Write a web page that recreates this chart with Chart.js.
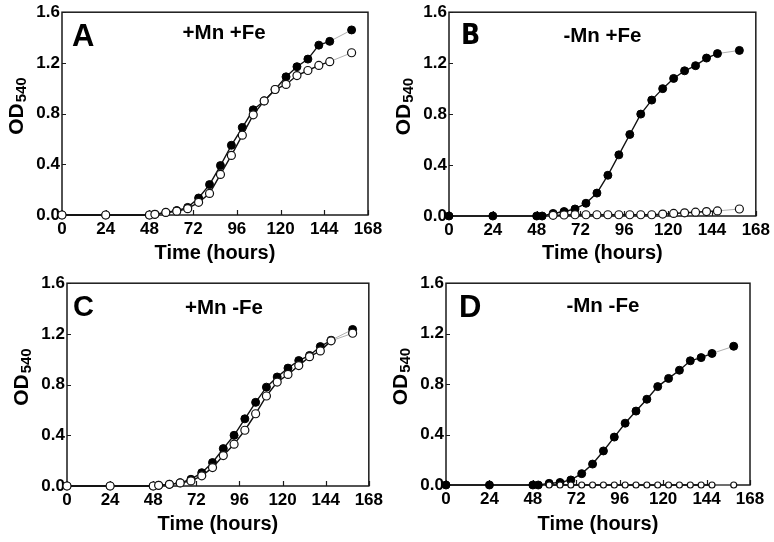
<!DOCTYPE html>
<html>
<head>
<meta charset="utf-8">
<script src="https://cdn.jsdelivr.net/npm/chart.js@4"></script>
<style>
  body { margin: 0; background: #fff; }
  #wrap { position: relative; width: 774px; height: 542px; }
  #wrap canvas { position: absolute; }
</style>
</head>
<body>
<div id="wrap">
  <canvas id="pA" width="387" height="271" style="left:0;top:0"></canvas>
  <canvas id="pB" width="387" height="271" style="left:387px;top:0"></canvas>
  <canvas id="pC" width="387" height="271" style="left:0;top:271px"></canvas>
  <canvas id="pD" width="387" height="271" style="left:387px;top:271px"></canvas>
</div>
<script>
// sampling times (hours)
const hours = [0, 24, 48, 51, 57, 63, 69, 75, 81, 87, 93, 99, 105, 111, 117, 123, 129, 135, 141, 147, 159];
const hoursLate = [57, 63, 69, 75, 81, 87, 93, 99, 105, 111, 117, 123, 129, 135, 141, 147, 159];

// OD540 readings, filled = wild type, open = mutant
const filledA = [0, 0, 0, 0.005, 0.02, 0.035, 0.06, 0.134, 0.24, 0.39, 0.55, 0.69, 0.83, 0.90, 0.99, 1.09, 1.17, 1.23, 1.34, 1.37, 1.46];
const openA   = [0, 0, 0, 0.005, 0.02, 0.03, 0.05, 0.10, 0.17, 0.32, 0.47, 0.63, 0.79, 0.90, 0.99, 1.03, 1.10, 1.14, 1.18, 1.21, 1.28];

const filledB = [0, 0, 0, 0, 0.02, 0.035, 0.055, 0.10, 0.18, 0.32, 0.48, 0.64, 0.80, 0.91, 1.00, 1.08, 1.14, 1.18, 1.24, 1.275, 1.30];
const openB   = [0.005, 0.008, 0.01, 0.01, 0.01, 0.01, 0.01, 0.01, 0.01, 0.01, 0.015, 0.02, 0.025, 0.03, 0.035, 0.04, 0.055];

const filledC = [0, 0, 0, 0.005, 0.013, 0.025, 0.053, 0.105, 0.185, 0.295, 0.40, 0.53, 0.66, 0.78, 0.86, 0.93, 0.99, 1.03, 1.10, 1.15, 1.235];
const openC   = [0, 0, 0, 0.005, 0.013, 0.024, 0.04, 0.08, 0.145, 0.24, 0.33, 0.44, 0.57, 0.71, 0.82, 0.88, 0.95, 1.02, 1.066, 1.145, 1.205];

const filledD = [0, 0, 0, 0, 0.013, 0.02, 0.04, 0.09, 0.166, 0.27, 0.38, 0.49, 0.586, 0.68, 0.78, 0.845, 0.91, 0.985, 1.01, 1.043, 1.10];
const openD   = [0, 0, 0, 0, 0, 0, 0, 0, 0, 0, 0, 0, 0, 0, 0, 0, 0];

const xTicks = [0, 24, 48, 72, 96, 120, 144, 168];
const yTicks = [0, 0.4, 0.8, 1.2, 1.6];

const panels = [
  { id: 'pA', letter: 'A', cond: '+Mn +Fe', fx: hours, fy: filledA, ox: hours, oy: openA,
    box: { l: 62, t: 12, r: 19, b: 56 }, letterX: 10, letterFont: 'bold 31px "Liberation Sans", Arial', condX: 0.53, condY: 21, openR: 4 },
  { id: 'pB', letter: 'B', cond: '-Mn +Fe', fx: hours, fy: filledB, ox: hoursLate, oy: openB,
    box: { l: 62, t: 12, r: 17, b: 55 }, letterX: 12, letterFont: 'bold 28px "Liberation Sans Narrow", "DejaVu Sans Condensed", Arial', condX: 0.5, condY: 24, openR: 4 },
  { id: 'pC', letter: 'C', cond: '+Mn -Fe', fx: hours, fy: filledC, ox: hours, oy: openC,
    box: { l: 67, t: 12, r: 17, b: 56 }, letterX: 6, letterFont: 'bold 29px "Liberation Sans", Arial', condX: 0.52, condY: 25, openR: 4 },
  { id: 'pD', letter: 'D', cond: '-Mn -Fe', fx: hours, fy: filledD, ox: hoursLate, oy: openD,
    box: { l: 59, t: 12, r: 24, b: 57 }, letterX: 13, letterFont: 'bold 31px "Liberation Sans", Arial', condX: 0.516, condY: 23, openR: 3 }
];

const FONT = '"Liberation Sans", Arial, sans-serif';

function pts(xs, ys) {
  return xs.map((x, i) => ({ x: x, y: ys[i] }));
}

// frame, inward ticks, labels and y title
const framePlugin = {
  id: 'frame',
  beforeDatasetsDraw(chart) {
    const ctx = chart.ctx;
    const a = chart.chartArea;
    const xs = chart.scales.x, ys = chart.scales.y;
    ctx.save();
    ctx.strokeStyle = '#1a1a1a';
    ctx.lineWidth = 1.5;
    ctx.strokeRect(a.left, a.top, a.right - a.left, a.bottom - a.top);
    ctx.lineWidth = 1.2;
    ctx.beginPath();
    xTicks.forEach(v => {
      const px = Math.round(xs.getPixelForValue(v)) + 0.5;
      ctx.moveTo(px, a.bottom);
      ctx.lineTo(px, a.bottom - 5);
    });
    yTicks.forEach(v => {
      const py = Math.round(ys.getPixelForValue(v)) + 0.5;
      ctx.moveTo(a.left, py);
      ctx.lineTo(a.left + 4, py);
    });
    ctx.stroke();
    ctx.restore();
  },
  afterDraw(chart) {
    const p = chart.options.plugins.frame;
    const ctx = chart.ctx;
    const a = chart.chartArea;
    ctx.save();
    ctx.fillStyle = '#000';
    // panel letter
    ctx.font = p.letterFont;
    ctx.textAlign = 'left';
    ctx.textBaseline = 'middle';
    ctx.fillText(p.letter, a.left + p.letterX, a.top + 25);
    // condition
    ctx.font = 'bold 20.5px ' + FONT;
    ctx.textAlign = 'center';
    ctx.fillText(p.cond, a.left + (a.right - a.left) * p.condX, a.top + p.condY);
    // y title OD540
    ctx.translate(a.left - 39, (a.top + a.bottom) / 2 - 7);
    ctx.rotate(-Math.PI / 2);
    ctx.textAlign = 'left';
    ctx.textBaseline = 'alphabetic';
    ctx.font = 'bold 21px ' + FONT;
    const w1 = ctx.measureText('OD').width;
    ctx.font = 'bold 15px ' + FONT;
    const w2 = ctx.measureText('540').width;
    const x0 = -(w1 + w2) / 2;
    ctx.font = 'bold 21px ' + FONT;
    ctx.fillText('OD', x0, 0);
    ctx.font = 'bold 15px ' + FONT;
    ctx.fillText('540', x0 + w1 + 1, 3);
    ctx.restore();
  }
};

const lineSeg = {
  borderColor: c => (c.p0.parsed.x >= 147 ? '#9a9a9a' : '#111'),
  borderWidth: c => (c.p0.parsed.x >= 147 ? 0.8 : 1.4)
};

panels.forEach(p => {
  new Chart(document.getElementById(p.id), {
    type: 'line',
    data: {
      datasets: [
        {
          label: 'open',
          data: pts(p.ox, p.oy),
          borderColor: '#111',
          borderWidth: 1.4,
          pointRadius: p.openR,
          pointBackgroundColor: '#fff',
          pointBorderColor: '#111',
          pointBorderWidth: 1.2,
          segment: lineSeg,
          tension: 0,
          clip: false
        },
        {
          label: 'filled',
          data: pts(p.fx, p.fy),
          borderColor: '#111',
          borderWidth: 1.4,
          pointRadius: 4,
          pointBackgroundColor: '#000',
          pointBorderColor: '#000',
          pointBorderWidth: 1,
          segment: lineSeg,
          tension: 0,
          clip: false
        }
      ]
    },
    options: {
      responsive: false,
      animation: false,
      devicePixelRatio: 1,
      layout: { padding: { left: 0, top: p.box.t, right: p.box.r, bottom: 0 } },
      scales: {
        x: {
          type: 'linear',
          min: 0, max: 168,
          afterFit: s => { s.height = p.box.b; },
          afterBuildTicks: s => { s.ticks = xTicks.map(v => ({ value: v })); },
          grid: { display: false, drawTicks: false },
          border: { display: false },
          ticks: { color: '#000', padding: 4, font: { family: FONT, size: 17, weight: 'bold' } },
          title: { display: true, text: 'Time (hours)', color: '#000', padding: { top: 0, bottom: 6 },
                   font: { family: FONT, size: 20, weight: 'bold' } }
        },
        y: {
          min: 0, max: 1.6,
          afterFit: s => { s.width = p.box.l; },
          afterBuildTicks: s => { s.ticks = yTicks.map(v => ({ value: v })); },
          grid: { display: false, drawTicks: false },
          border: { display: false },
          ticks: { color: '#000', padding: 2, callback: v => v.toFixed(1),
                   font: { family: FONT, size: 17, weight: 'bold' } }
        }
      },
      plugins: {
        legend: { display: false },
        tooltip: { enabled: false },
        frame: p
      }
    },
    plugins: [framePlugin]
  });
});
</script>
</body>
</html>
